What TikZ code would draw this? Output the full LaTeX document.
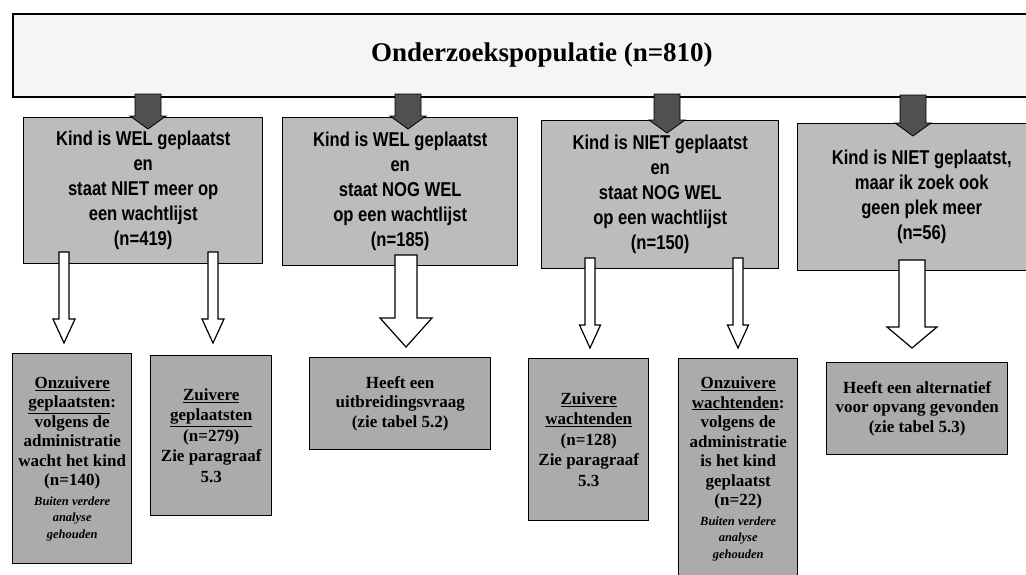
\documentclass[tikz,border=0pt]{standalone}
\usepackage{fontspec}
\setmainfont{Liberation Serif}
\newfontfamily\boxsans[FakeStretch=0.83]{Liberation Sans}
\usepackage{tikz}
\usetikzlibrary{calc}
\definecolor{topfill}{HTML}{F5F5F5}
\definecolor{grpfill}{HTML}{BCBCBC}
\definecolor{subfill}{HTML}{ABABAB}
\definecolor{darkarr}{HTML}{505050}
\tikzset{
  topbox/.style={draw=black, line width=1.8pt, fill=topfill, anchor=north west, inner sep=0pt,
    font=\bfseries\fontsize{27}{30}\selectfont},
  grp/.style={draw=black, line width=1.4pt, fill=grpfill, anchor=north west, inner sep=0pt,
    align=center, font=\boxsans\bfseries\fontsize{20}{22}\selectfont},
  sub/.style={draw=black, line width=1.4pt, fill=subfill, anchor=north west, inner sep=0pt,
    align=center, font=\bfseries\fontsize{17}{19.5}\selectfont},
  darkfill/.style={fill=darkarr, draw=black, line width=0.8pt, line join=miter},
  hollow/.style={fill=white, draw=black, line width=1.2pt, line join=miter},
}
\newcommand\smallit[1]{{\fontsize{12.5}{15}\selectfont\itshape #1}}
% block arrow: start, tip, shaft half width, head half width, head length
\newcommand\blockarrow[6]{%
  \filldraw[#1] ($(#2)+(-#4,0)$) -- ($(#3)+(-#4,-#6)$) -- ($(#3)+(-#5,-#6)$) -- (#3)
    -- ($(#3)+(#5,-#6)$) -- ($(#3)+(#4,-#6)$) -- ($(#2)+(#4,0)$) -- cycle;}

\begin{document}
\begin{tikzpicture}[x=1pt,y=-1pt]
  \clip (0,0) rectangle (1026,574);
  \fill[white] (0,0) rectangle (1026,574);

  % population
  \node[topbox, minimum width=1058pt, minimum height=83pt] (pop) at (12,13) {Onderzoekspopulatie (n=810)};

  % four groups
  \node[grp, minimum width=239pt, minimum height=146pt] (m1) at (23,117)
    {Kind is WEL geplaatst\\[3pt]en\\[3pt]staat NIET meer op\\[3pt]een wachtlijst\\[3pt](n=419)};
  \node[grp, minimum width=235pt, minimum height=148pt] (m2) at (282,117)
    {Kind is WEL geplaatst\\[3pt]en\\[3pt]staat NOG WEL\\[3pt]op een wachtlijst\\[3pt](n=185)};
  \node[grp, minimum width=237pt, minimum height=148pt] (m3) at (541,120)
    {Kind is NIET geplaatst\\[3pt]en\\[3pt]staat NOG WEL\\[3pt]op een wachtlijst\\[3pt](n=150)};
  \node[grp, minimum width=248pt, minimum height=147pt] (m4) at (797,123)
    {Kind is NIET geplaatst,\\[3pt]maar ik zoek ook\\[3pt]geen plek meer\\[3pt](n=56)};

  % outcomes
  \node[sub, minimum width=119pt, minimum height=210pt] (oA) at (12,353)
    {\underline{Onzuivere}\\\underline{geplaatsten}:\\volgens de\\administratie\\wacht het kind\\(n=140)\\
     \smallit{Buiten verdere}\\[-3pt]\smallit{analyse}\\[-3pt]\smallit{gehouden}};
  \node[sub, minimum width=121pt, minimum height=160pt] (oB) at (150,355)
    {\underline{Zuivere}\\[1pt]\underline{geplaatsten}\\[1pt](n=279)\\[1pt]Zie paragraaf\\[1pt]5.3};
  \node[sub, minimum width=181pt, minimum height=92pt] (oC) at (309,357)
    {Heeft een\\uitbreidingsvraag\\(zie tabel 5.2)};
  \node[sub, minimum width=120pt, minimum height=162pt] (oD) at (528,358)
    {\underline{Zuivere}\\[1pt]\underline{wachtenden}\\[1pt](n=128)\\[1pt]Zie paragraaf\\[1pt]5.3};
  \node[sub, minimum width=119pt, minimum height=220pt] (oE) at (678,358)
    {\underline{Onzuivere}\\\underline{wachtenden}:\\volgens de\\administratie\\is het kind\\geplaatst\\(n=22)\\
     \smallit{Buiten verdere}\\[-3pt]\smallit{analyse}\\[-3pt]\smallit{gehouden}};
  \node[sub, minimum width=181pt, minimum height=92pt] (oF) at (826,362)
    {Heeft een alternatief\\voor opvang gevonden\\(zie tabel 5.3)};

  % dark arrows
  \coordinate (d1s) at (148,94);  \coordinate (d1e) at (148,129);
  \coordinate (d2s) at (408,94);  \coordinate (d2e) at (408,129);
  \coordinate (d3s) at (667,94);  \coordinate (d3e) at (667,133);
  \coordinate (d4s) at (913,95);  \coordinate (d4e) at (913,136);
  \blockarrow{darkfill}{d1s}{d1e}{13}{18}{13}
  \blockarrow{darkfill}{d2s}{d2e}{13}{18}{13}
  \blockarrow{darkfill}{d3s}{d3e}{13}{18}{13}
  \blockarrow{darkfill}{d4s}{d4e}{13}{18}{13}

  % hollow arrows
  \coordinate (h1s) at (64,252);  \coordinate (h1e) at (64,343);
  \coordinate (h2s) at (213,252); \coordinate (h2e) at (213,343);
  \coordinate (h3s) at (406,255); \coordinate (h3e) at (406,347);
  \coordinate (h4s) at (590,258); \coordinate (h4e) at (590,348);
  \coordinate (h5s) at (738,258); \coordinate (h5e) at (738,348);
  \coordinate (h6s) at (912,260); \coordinate (h6e) at (912,348);
  \blockarrow{hollow}{h1s}{h1e}{5}{11}{24}
  \blockarrow{hollow}{h2s}{h2e}{5}{11}{24}
  \blockarrow{hollow}{h3s}{h3e}{11}{26}{29}
  \blockarrow{hollow}{h4s}{h4e}{5}{10.5}{23}
  \blockarrow{hollow}{h5s}{h5e}{5}{10.5}{23}
  \blockarrow{hollow}{h6s}{h6e}{13}{25}{21}
\end{tikzpicture}
\end{document}
